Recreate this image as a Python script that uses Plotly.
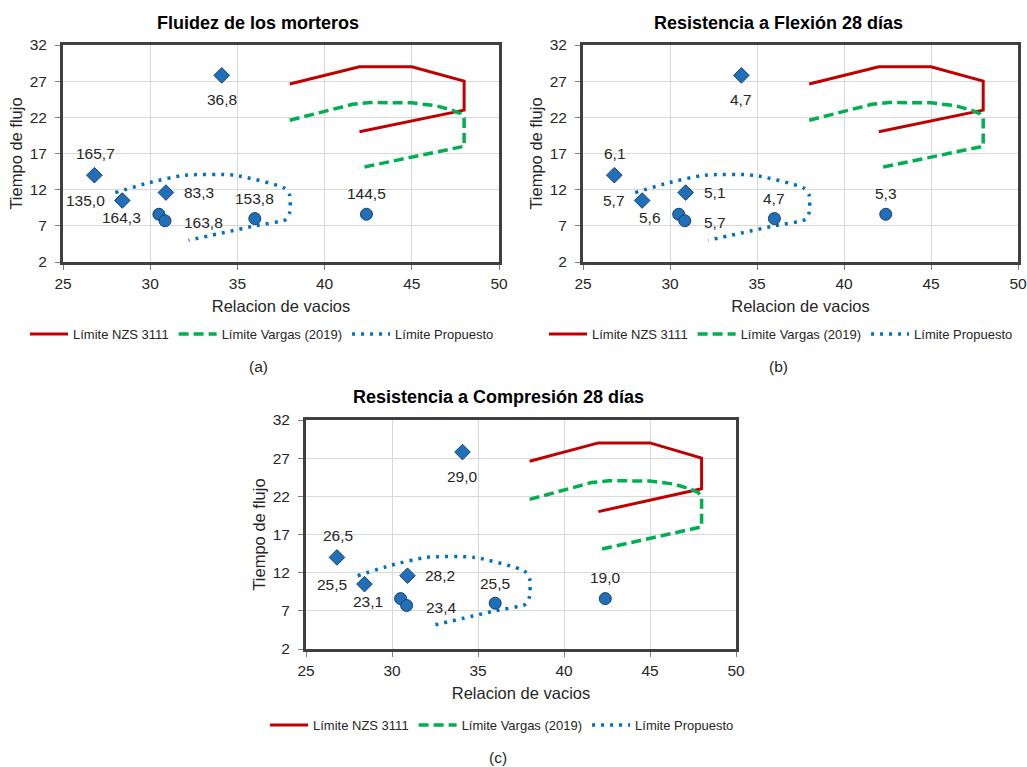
import plotly.graph_objects as go

# Relación de vacíos y tiempo de flujo de las mezclas (rombos y círculos)
vacios_rombo = [26.8, 28.4, 30.9, 34.1]
flujo_rombo = [14.0, 10.5, 11.6, 27.8]
vacios_circulo = [30.5, 30.85, 36.0, 42.4]
flujo_circulo = [8.6, 7.7, 8.0, 8.6]

# Propiedades medidas en cada mezcla (etiquetas de los puntos)
fluidez_rombo = [165.7, 135.0, 83.3, 36.8]
fluidez_circulo = [164.3, 163.8, 153.8, 144.5]
flexion_rombo = [6.1, 5.7, 5.1, 4.7]
flexion_circulo = [5.6, 5.7, 4.7, 5.3]
compresion_rombo = [26.5, 25.5, 28.2, 29.0]
compresion_circulo = [23.1, 23.4, 25.5, 19.0]

# Límites de la zona de trabajo (vértices de cada contorno)
nzs_x = [38, 42, 45, 48, 48, 42]
nzs_y = [26.6, 29, 29, 27, 23, 20]
vargas_x = [38, 40.5, 41.6, 42.6, 45, 46.4, 47.3, 47.8, 48, 48, 42]
vargas_y = [21.6, 23.2, 23.8, 24.05, 24, 23.6, 23.0, 22.5, 21.9, 18, 15]
propuesto_x = [28, 30, 32, 34.8, 37.7, 38, 38, 37.8, 36, 32.2]
propuesto_y = [11.6, 13, 14, 14, 12.2, 11.2, 8.9, 7.9, 7.0, 5.0]

titulos = ["Fluidez de los morteros", "Resistencia a Flexión 28 días",
           "Resistencia a Compresión 28 días"]
rotulos = ["(a)", "(b)", "(c)"]
x_ticks = [25, 30, 35, 40, 45, 50]
y_ticks = [2, 7, 12, 17, 22, 27, 32]

W, H = 1027, 767
FONT = "Liberation Sans, Arial, sans-serif"
AZUL = "#1F6FBA"
TEXTO = "#262626"

# Área de trazado de cada panel, en píxeles (izq, der) y (arriba, abajo)
paneles = [
    dict(px=(63, 499), py=(45, 262), titulo=(258, 23), leyenda=(262, 334), rotulo=(258, 366)),
    dict(px=(583, 1018), py=(45, 262), titulo=(778, 23), leyenda=(781, 334), rotulo=(778, 366)),
    dict(px=(306, 736), py=(420, 649), titulo=(498, 397), leyenda=(502, 725), rotulo=(498, 757)),
]
etiquetas = [
    (fluidez_rombo, fluidez_circulo),
    (flexion_rombo, flexion_circulo),
    (compresion_rombo, compresion_circulo),
]
# Colocación de cada etiqueta respecto a su marcador: (anclaje, desplazamiento x, desplazamiento y)
pos_rombo = [("center", 1, 22), ("right", -15, 0), ("left", 16, 0), ("center", 0, -24)]
pos_circulo = [("right", -16, -3), ("left", 17, -2), ("center", 0, 20), ("center", 0, 21)]


def fmt(v):
    return f"{v:.1f}".replace(".", ",")


def fx(p):
    return p / W


def fy(p):
    return 1 - p / H


fig = go.Figure()
layout = dict(
    width=W, height=H,
    margin=dict(l=0, r=0, t=0, b=0, pad=0, autoexpand=False),
    paper_bgcolor="white", plot_bgcolor="white",
    font=dict(family=FONT, size=15, color=TEXTO),
    showlegend=True,
    annotations=[],
)

for i, (pan, (et_r, et_c)) in enumerate(zip(paneles, etiquetas)):
    sfx = "" if i == 0 else str(i + 1)
    xa, ya = "x" + sfx, "y" + sfx
    leg = "legend" + sfx

    fig.add_trace(go.Scatter(
        x=nzs_x, y=nzs_y, xaxis=xa, yaxis=ya, mode="lines",
        line=dict(color="#C00000", width=3), name="Límite NZS 3111", legend=leg))
    fig.add_trace(go.Scatter(
        x=vargas_x, y=vargas_y, xaxis=xa, yaxis=ya, mode="lines",
        line=dict(color="#00B050", width=3.5, dash="10px,5px"),
        name="Límite Vargas (2019)", legend=leg))
    fig.add_trace(go.Scatter(
        x=propuesto_x, y=propuesto_y, xaxis=xa, yaxis=ya, mode="lines",
        line=dict(color="#0070C0", width=3.5, dash="3px,6px", shape="spline", smoothing=0.6),
        name="Límite Propuesto", legend=leg))
    fig.add_trace(go.Scatter(
        x=vacios_rombo, y=flujo_rombo, xaxis=xa, yaxis=ya, mode="markers",
        marker=dict(symbol="diamond", size=12, color=AZUL, line=dict(color="#1F3F66", width=1)),
        showlegend=False, cliponaxis=False))
    fig.add_trace(go.Scatter(
        x=vacios_circulo, y=flujo_circulo, xaxis=xa, yaxis=ya, mode="markers",
        marker=dict(symbol="circle", size=12, color=AZUL, line=dict(color="#1F3F66", width=1)),
        showlegend=False, cliponaxis=False))

    # Etiquetas de valor junto a cada marcador
    for xs, ys, vals, pos in ((vacios_rombo, flujo_rombo, et_r, pos_rombo),
                              (vacios_circulo, flujo_circulo, et_c, pos_circulo)):
        for xv, yv, v, (anc, dx, dy) in zip(xs, ys, vals, pos):
            layout["annotations"].append(dict(
                text=fmt(v), x=xv, y=yv, xref=xa, yref=ya, showarrow=False,
                xanchor=anc, yanchor="middle", xshift=dx, yshift=dy,
                font=dict(size=15.5, color=TEXTO)))

    eje_comun = dict(
        showgrid=True, gridcolor="#D9D9D9", gridwidth=1, automargin=False,
        zeroline=False, showline=True, mirror=True, linecolor="#404040", linewidth=3,
        ticks="outside", ticklen=5, tickcolor="#808080", tickwidth=1,
        tickfont=dict(size=15.5, color=TEXTO),
    )
    layout["xaxis" + sfx] = dict(
        eje_comun, domain=[fx(pan["px"][0]), fx(pan["px"][1])], anchor=ya,
        range=[25, 50], tickvals=x_ticks,
        title=dict(text="Relacion de vacios", font=dict(size=16.5, color=TEXTO), standoff=10),
    )
    layout["yaxis" + sfx] = dict(
        eje_comun, domain=[fy(pan["py"][1]), fy(pan["py"][0])], anchor=xa,
        range=[2, 32], tickvals=y_ticks, ticklabelstandoff=5,
        title=dict(text="Tiempo de flujo", font=dict(size=16.5, color=TEXTO), standoff=3),
    )
    layout[leg] = dict(
        orientation="h", x=fx(pan["leyenda"][0]), y=fy(pan["leyenda"][1]),
        xanchor="center", yanchor="middle", font=dict(size=13, color=TEXTO),
        bgcolor="rgba(0,0,0,0)", tracegroupgap=0, itemwidth=38,
    )
    layout["annotations"].append(dict(
        text=f"<b>{titulos[i]}</b>", x=fx(pan["titulo"][0]), y=fy(pan["titulo"][1]),
        xref="paper", yref="paper", showarrow=False, xanchor="center", yanchor="middle",
        font=dict(size=18, color="black")))
    layout["annotations"].append(dict(
        text=rotulos[i], x=fx(pan["rotulo"][0]), y=fy(pan["rotulo"][1]),
        xref="paper", yref="paper", showarrow=False, xanchor="center", yanchor="middle",
        font=dict(size=15.5, color=TEXTO)))

fig.update_layout(**layout)
# La página ocupa exactamente el tamaño de la figura, sin margen del documento
fig.write_html("out.html", post_script="document.body.style.margin='0';")
